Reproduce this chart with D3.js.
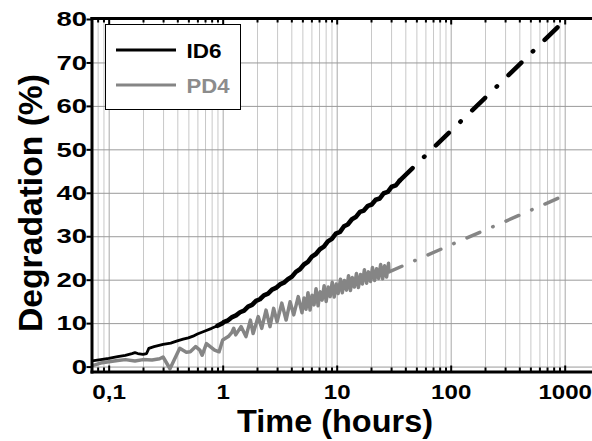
<!DOCTYPE html>
<html><head><meta charset="utf-8">
<script src="https://cdn.jsdelivr.net/npm/d3@7"></script>
<style>
body{margin:0;background:#fff}
svg{display:block}
text{font-family:"Liberation Sans",Arial,sans-serif;font-weight:bold}
</style>
</head><body>
<svg id="c" width="592" height="441"></svg>
<script>
// ---- data (time in hours, degradation in %) ----
const xMajorTicks = [0.1, 1, 10, 100, 1000];
const xTickLabels = ["0,1", "1", "10", "100", "1000"];
const yTicks = [0, 10, 20, 30, 40, 50, 60, 70, 80];
const seriesNames = ["ID6", "PD4"];

const id6Measured = [
  [0.0714,1.3],[0.085,1.6],[0.1,1.9],[0.12,2.3],[0.14,2.6],[0.16,3.0],[0.17,3.2],[0.18,3.0],
  [0.2,2.8],[0.215,3.0],[0.225,4.2],[0.25,4.6],[0.3,5.1],[0.35,5.4],[0.4,5.9],[0.45,6.3],
  [0.5,6.6],[0.55,7.0],[0.6,7.5],[0.7,8.2],[0.8,8.8],[0.9,9.4],[1.0,10.0],
  [1.03,10.3],[1.11,10.6],[1.21,11.4],[1.31,11.8],[1.42,12.5],[1.54,12.9],[1.67,13.8],[1.81,14.2],
  [1.96,15.1],[2.12,15.5],[2.30,16.4],[2.50,16.8],[2.71,17.7],[2.93,18.1],[3.18,18.9],[3.44,19.3],
  [3.73,20.1],[4.05,20.7],[4.39,21.8],[4.76,22.4],[5.16,23.5],[5.59,24.1],[6.06,25.3],[6.57,25.9],
  [7.12,27.0],[7.72,27.6],[8.37,28.8],[9.07,29.4],[9.83,30.6],[10.7,31.0],[11.6,32.3],[12.5,32.7],
  [13.6,33.9],[14.7,34.4],[16.0,35.6],[17.3,35.9],[18.8,37.0],[20.3,37.3],[22.0,38.4],[23.9,38.7],
  [25.9,39.9],[28.1,40.2],[30.4,41.4],[33.0,41.7],[35.7,42.8]
];
const id6Extrapolated = [[35.7,42.8],[100,54.2],[300,66.3],[1000,79.7]];

const pd4Measured = [
  [0.072,0.2],[0.085,0.8],[0.1,1.1],[0.12,1.4],[0.14,1.6],[0.17,1.3],[0.2,1.6],[0.24,1.5],
  [0.28,1.8],[0.3,2.2],[0.345,-0.5],[0.42,4.2],[0.48,3.3],[0.52,3.4],[0.58,4.6],[0.63,3.8],
  [0.66,2.6],[0.72,5.3],[0.85,3.8],[0.93,3.4],[1.0,6.1],[1.12,6.9],[1.2,7.8],[1.25,8.8],
  [1.3,7.3],[1.45,9.2],[1.6,6.9],[1.75,10.7],[1.85,7.6],[2.05,11.5],[2.2,8.8],[2.4,13.0],
  [2.6,9.2],[2.8,13.4],[3.0,10.3],[3.3,14.6],[3.6,10.7],[3.9,14.9],[4.2,11.9],[4.6,16.1],
  [4.96,12.4],[5.17,15.8],[5.38,13.2],[5.60,17.0],[5.84,13.0],[6.08,16.4],[6.33,14.2],[6.59,17.9],
  [6.87,14.0],[7.15,17.2],[7.45,15.3],[7.76,18.6],[8.08,15.0],[8.42,18.3],[8.77,16.1],[9.13,19.4],
  [9.51,16.0],[9.91,19.0],[10.3,16.8],[10.8,20.1],[11.2,17.0],[11.7,19.8],[12.2,17.6],[12.7,20.9],
  [13.2,17.5],[13.7,20.5],[14.3,18.3],[14.9,21.4],[15.5,18.2],[16.2,21.2],[16.8,19.0],[17.5,22.3],
  [18.3,19.2],[19.0,21.8],[19.8,19.6],[20.6,22.8],[21.5,19.8],[22.4,22.5],[23.3,20.3],[24.3,23.5],
  [25.3,20.2],[26.3,23.2],[27.4,20.6],[28.5,23.8],[28.8,21.8]
];
const pd4Extrapolated = [[28.8,21.8],[100,28.0],[300,33.4],[1000,39.4]];

// ---- layout ----
const L = 92, R = 600, T = 19, B = 372;
const svg = d3.select("#c");
const x = d3.scaleLog().domain([0.0714, 2040]).range([L, R]);
const y = d3.scaleLinear().domain([-1.25, 80]).range([B, T]);
const allXTicks = x.ticks().filter(t => x(t) <= 592);
const isMajor = t => xMajorTicks.some(m => Math.abs(m - t) / m < 1e-6);
const minorXTicks = allXTicks.filter(t => !isMajor(t));

svg.append("rect").attr("width", 592).attr("height", 441).attr("fill", "#fff");

// grid
const gx = svg.append("g").attr("transform", `translate(0,${B})`)
  .call(d3.axisBottom(x).tickValues(allXTicks).tickSize(-(B - T)).tickFormat(""));
gx.select(".domain").remove();
gx.selectAll(".tick line").attr("stroke", d => isMajor(d) ? "#a8a8a8" : "#c8c8c8").attr("stroke-width", 1);

const gy = svg.append("g").attr("transform", `translate(${L},0)`)
  .call(d3.axisLeft(y).tickValues(yTicks).tickSize(-(R - L)).tickFormat(""));
gy.select(".domain").remove();
gy.selectAll(".tick line").attr("stroke", "#9a9a9a").attr("stroke-width", 1);

// clip
svg.append("clipPath").attr("id", "clip").append("rect")
  .attr("x", L).attr("y", T - 4).attr("width", 592 - L).attr("height", B - T + 4);
const plot = svg.append("g").attr("clip-path", "url(#clip)");
const line = d3.line().x(d => x(d[0])).y(d => y(d[1]));

plot.append("path").datum(pd4Extrapolated).attr("d", line)
  .attr("fill", "none").attr("stroke", "#858585").attr("stroke-width", 3.5)
  .attr("stroke-linecap", "round").attr("stroke-dasharray", "14 14 0.5 14");
plot.append("path").datum(pd4Measured).attr("d", line)
  .attr("fill", "none").attr("stroke", "#858585").attr("stroke-width", 3.5)
  .attr("stroke-linejoin", "round");
plot.append("path").datum(id6Extrapolated).attr("d", line)
  .attr("fill", "none").attr("stroke", "#000").attr("stroke-width", 4.5)
  .attr("stroke-linecap", "round").attr("stroke-dasharray", "18 16 0.5 16");
plot.append("path").datum(id6Measured.filter(d => d[0] <= 1.0)).attr("d", line)
  .attr("fill", "none").attr("stroke", "#000").attr("stroke-width", 2.8)
  .attr("stroke-linejoin", "round");
plot.append("path").datum(id6Measured.filter(d => d[0] >= 0.9)).attr("d", line)
  .attr("fill", "none").attr("stroke", "#000").attr("stroke-width", 4.6)
  .attr("stroke-linejoin", "round").attr("stroke-linecap", "round");

// axes ticks
function styleTicks(g) { g.select(".domain").remove(); g.selectAll(".tick line").attr("stroke", "#000").attr("stroke-width", 2); }
svg.append("g").attr("transform", `translate(0,${B})`)
  .call(d3.axisBottom(x).tickValues(minorXTicks).tickSize(-4.5).tickFormat("")).call(styleTicks);
svg.append("g").attr("transform", `translate(0,${B})`)
  .call(d3.axisBottom(x).tickValues(xMajorTicks).tickSize(-6.5).tickFormat("")).call(styleTicks);
svg.append("g").attr("transform", `translate(0,${T - 0.5})`)
  .call(d3.axisTop(x).tickValues(minorXTicks).tickSize(-4).tickFormat("")).call(styleTicks);
svg.append("g").attr("transform", `translate(0,${T - 0.5})`)
  .call(d3.axisTop(x).tickValues(xMajorTicks).tickSize(-6).tickFormat("")).call(styleTicks);
svg.append("g").attr("transform", `translate(${L},0)`)
  .call(d3.axisLeft(y).tickValues(yTicks).tickSize(5.5).tickFormat("")).call(styleTicks);

// tick labels
const xl = svg.append("g").attr("transform", `translate(0,${B})`)
  .call(d3.axisBottom(x).tickValues(xMajorTicks).tickSize(0).tickPadding(12)
    .tickFormat((d, i) => xTickLabels[i]));
xl.select(".domain").remove();
xl.selectAll("text").attr("font-size", 21).attr("fill", "#000")
  .style("font-family", '"Liberation Sans",Arial,sans-serif').style("font-weight", "bold")
  .attr("textLength", d => { const s = xTickLabels[xMajorTicks.indexOf(d)]; return s.replace(/,/g, "").length * 13.4 + (s.includes(",") ? 7 : 0); })
  .attr("lengthAdjust", "spacingAndGlyphs");

const yl = svg.append("g").attr("transform", `translate(${L},0)`)
  .call(d3.axisLeft(y).tickValues(yTicks).tickSize(0).tickPadding(5));
yl.select(".domain").remove();
yl.selectAll("text").attr("font-size", 21).attr("fill", "#000")
  .style("font-family", '"Liberation Sans",Arial,sans-serif').style("font-weight", "bold")
  .attr("textLength", d => String(d).length * 15.3).attr("lengthAdjust", "spacingAndGlyphs");

// frame
svg.append("line").attr("x1", L).attr("x2", L).attr("y1", T - 2).attr("y2", B + 1.5).attr("stroke", "#000").attr("stroke-width", 3);
svg.append("line").attr("x1", L - 1.5).attr("x2", 592).attr("y1", B).attr("y2", B).attr("stroke", "#000").attr("stroke-width", 3);
svg.append("line").attr("x1", L - 1.5).attr("x2", 592).attr("y1", T - 0.5).attr("y2", T - 0.5).attr("stroke", "#000").attr("stroke-width", 3);

// legend
const lg = svg.append("g");
lg.append("rect").attr("x", 105.5).attr("y", 24.5).attr("width", 135).attr("height", 85)
  .attr("fill", "#fff").attr("stroke", "#000").attr("stroke-width", 1);
const legendColors = ["#000", "#858585"];
const legendTextColors = ["#000", "#8c8c8c"];
const legendY = [50, 85];
const legendTL = [35, 43];
seriesNames.forEach((n, i) => {
  lg.append("line").attr("x1", 116).attr("x2", 176).attr("y1", legendY[i]).attr("y2", legendY[i])
    .attr("stroke", legendColors[i]).attr("stroke-width", 3);
  lg.append("text").attr("x", 186.5).attr("y", legendY[i] + 8).attr("font-size", 21)
    .attr("fill", legendTextColors[i]).attr("textLength", legendTL[i]).attr("lengthAdjust", "spacingAndGlyphs").text(n);
});

// axis titles
svg.append("text").attr("x", 335).attr("y", 432).attr("text-anchor", "middle").attr("font-size", 31)
  .attr("textLength", 196).attr("lengthAdjust", "spacingAndGlyphs").text("Time (hours)");
svg.append("text").attr("transform", "translate(42,203) rotate(-90)").attr("text-anchor", "middle")
  .attr("font-size", 33).attr("textLength", 258).attr("lengthAdjust", "spacingAndGlyphs").text("Degradation (%)");
</script>
</body></html>
